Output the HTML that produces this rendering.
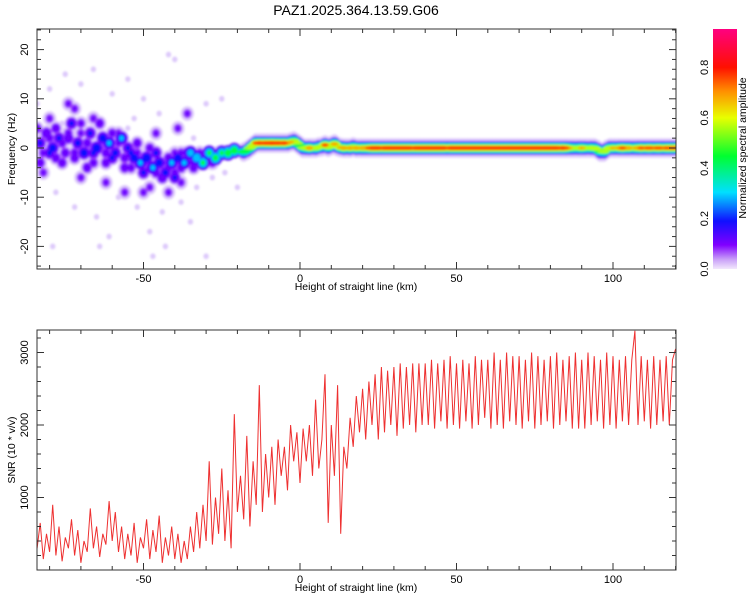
<!DOCTYPE html>
<html><head><meta charset="utf-8"><style>
html,body{margin:0;padding:0;background:#fff;}
svg{display:block;font-family:"Liberation Sans",sans-serif;}
</style></head><body>
<svg id="chart" width="750" height="600" viewBox="0 0 750 600">
<defs>
<clipPath id="clipTop"><rect x="37" y="29" width="639" height="240"/></clipPath>
<clipPath id="clipBot"><rect x="37" y="330" width="639" height="240"/></clipPath>
<filter id="soft" x="-5%" y="-5%" width="110%" height="110%"><feGaussianBlur stdDeviation="1.1"/></filter>
<linearGradient id="cbar" x1="0" y1="1" x2="0" y2="0">
<stop offset="0" stop-color="#f2e8fc"/><stop offset="0.04" stop-color="#c9a0f8"/>
<stop offset="0.1" stop-color="#8000ff"/><stop offset="0.2" stop-color="#1010ff"/>
<stop offset="0.32" stop-color="#00e0ff"/><stop offset="0.47" stop-color="#00ff30"/>
<stop offset="0.63" stop-color="#e8ff00"/><stop offset="0.74" stop-color="#ff9000"/>
<stop offset="0.84" stop-color="#ff1000"/><stop offset="1" stop-color="#ff0080"/>
</linearGradient>
</defs>
<text x="356" y="15" font-size="14" text-anchor="middle">PAZ1.2025.364.13.59.G06</text>
<g id="topPlot"></g>
<g id="botPlot"></g>
<g id="cb"></g>
</svg>
<script>
// ---------- data ----------
const snrStart = -84;
const snrValues = [
300,650,150,500,250,900,200,600,120,450,300,700,200,550,100,400,250,850,300,600,
180,500,350,950,400,800,250,600,150,500,200,650,100,450,300,700,150,550,250,750,
100,450,200,600,150,500,100,400,
150,600,250,800,300,900,400,1500,350,1000,500,1400,400,1100,300,2150,
800,1300,700,1850,600,1500,900,2550,800,1600,
1000,1700,900,1800,1300,1700,1100,2000,1500,1900,
1200,1950,1500,2000,1300,2350,1400,1800,2700,650,2000,1300,2550,500,1700,
1400,2100,1700,2400,1900,2500,1800,2600,2000,2700,
1800,2800,1900,2750,2000,2800,1850,2850,1950,2800,2000,2850,1900,2850,2000,
2850,2000,2900,1950,2850,2050,2900,1950,2950,2000,
2850,1950,2900,2050,2850,1950,2950,2000,2900,2100,
2900,1950,3000,2000,2900,1950,3000,2050,2950,2000,
2950,1950,2900,2050,3000,1950,2950,2000,2900,2050,
2950,1950,3000,2000,2900,2050,2950,1950,3000,1950,
2900,1950,3000,2000,2950,2050,2900,1950,3000,2000,
2950,1950,2900,2050,2950,2000,2900,3300,2000,2950,
2050,2900,1950,2950,2000,2900,2050,2950,2000,2900,
3050];
const ridgeStart = -18;
const ridgeF = [
-0.8,-0.5,0,0.5,1,1,1,1,1,1,1,1,1,1,1,1.2,1.4,1,0.5,0,
0,0,0,0,0.2,0.3,0.6,0.2,0.5,0.8,0.3,0.1,0,0,0,0.2,0,0,0,0,
0,0,0,0,0,0,0,0,0,0,0,0,0,0,0,0,0,0,0,0,
0,0,0,0,0,0,0,0,0,0,0,0,0,0,0,0,0,0,0,0,
0,0,0,0,0,0,0,0,0,0,0,0,0,0,0,0,0,0,0,0,
0,0,0,0,0,0,0,0,0,0,0,0,0,-0.3,-0.8,-0.8,-0.3,0,0,0,
0,0,0,0,0,0,0,0,0,0,0,0,0,0,0,0,0,0,0];
const ridgeAmp = [
0.55,0.5,0.6,0.65,0.85,0.9,0.88,0.9,0.9,0.92,0.9,0.9,0.88,0.9,0.8,0.75,0.7,0.6,0.55,0.6,
0.7,0.8,0.6,0.7,0.65,0.6,0.85,0.7,0.7,0.8,0.6,0.75,0.8,0.65,0.8,0.7,0.8,0.75,0.8,0.8,
0.85,0.9,0.9,0.9,0.88,0.9,0.9,0.9,0.9,0.9,0.9,0.9,0.9,0.9,0.88,0.9,0.9,0.9,0.9,0.9,
0.9,0.9,0.9,0.9,0.9,0.85,0.9,0.9,0.9,0.9,0.9,0.9,0.9,0.9,0.9,0.9,0.9,0.9,0.9,0.9,
0.9,0.9,0.9,0.9,0.9,0.9,0.9,0.9,0.9,0.9,0.9,0.9,0.9,0.9,0.9,0.9,0.9,0.9,0.9,0.9,
0.9,0.88,0.9,0.85,0.75,0.7,0.65,0.7,0.75,0.7,0.6,0.7,0.65,0.6,0.55,0.6,0.6,0.7,0.75,0.7,
0.8,0.85,0.8,0.8,0.7,0.75,0.8,0.85,0.8,0.85,0.85,0.8,0.85,0.85,0.8,0.85,0.85,0.85,0.85];
const blobX = [-83,-81,-79,-77,-75,-73,-71,-69,-67,-65,-63,-61,-59,-57,-55,-53,-51,-49,-47,-45,-43,-41,-39,-37,-35,-33,-31,-29,-27,-25,-23,-21,
-83,-80,-78,-76,-74,-72,-70,-68,-66,-64,-62,-60,-58,-56,-54,-52,-50,-48,-46,-44,-42,-40,-38,-36,-34,
-84,-82,-80,-78,-76,-74,-72,-70,-68,-66,-64,-62,-60,-58,-56,-54,-52,-50,-48,-46,-44,-42,-40,-38,-36,-34,-32,-30,-28,-26,
-72,-74,-66,-80,-82,-68,-62,-48,-42,-38,-50,-40,-46,-36,-39,-70,-56,
-80,-75,-70,-66,-60,-55,-50,-42,-40,-45,-30,-25,-78,-72,-65,-58,-52,-48,-44,-38,-35,-47,-43,-79,-61,-28,-24,-20,-30,-55,-34,-64,-84,-76,-53,-33];
const blobF = [1,3,0,2,-1,5,1,-1,3,0,2,1,-1,2,0,-2,-3,-2,-4,-3,-5,-3,-2,-3,-1,-2,-3,-1,-2,-1,-1,-0.5,
-3,-1,4,-3,2,-2,3,-4,-1,5,-3,-2,3,-4,-1,1,-5,-4,-1,-6,-2,-6,-4,-1,-4,
4,-1,2,-2,1,3,-1,5,1,-3,0,-1,3,1,-2,-4,-1,-3,0,-5,-3,-4,-5,-1,-3,-3,-1,-2,-3,-1,
8,9,6,6,-5,-4,-7,-8,-9,-7,-9,-1,3,7,4,-6,-9,
12,15,13,16,11,14,10,19,18,7,9,10,-9,-12,-14,-10,-12,-17,-13,-11,-15,-22,-20,-20,-18,-6,-5,-8,-22,4,2,-20,9,5,6,-8];
const blobA = [0.2,0.18,0.25,0.2,0.15,0.2,0.22,0.25,0.2,0.28,0.25,0.3,0.22,0.3,0.2,0.25,0.3,0.28,0.3,0.25,0.22,0.3,0.25,0.3,0.35,0.4,0.45,0.45,0.5,0.45,0.55,0.55,
0.15,0.2,0.15,0.15,0.18,0.15,0.12,0.15,0.2,0.15,0.15,0.2,0.12,0.15,0.2,0.15,0.2,0.15,0.2,0.18,0.15,0.2,0.15,0.18,0.15,
0.14,0.13,0.14,0.15,0.14,0.13,0.14,0.13,0.15,0.14,0.13,0.15,0.14,0.13,0.15,0.14,0.13,0.15,0.14,0.15,0.14,0.15,0.14,0.13,0.15,0.14,0.13,0.15,0.14,0.13,
0.12,0.12,0.12,0.12,0.12,0.12,0.12,0.12,0.12,0.12,0.12,0.12,0.12,0.12,0.12,0.12,0.12,
0.04,0.04,0.04,0.04,0.04,0.04,0.04,0.04,0.04,0.04,0.04,0.04,0.04,0.04,0.04,0.04,0.04,0.04,0.04,0.04,0.04,0.04,0.04,0.04,0.04,0.04,0.04,0.04,0.04,0.04,0.04,0.04,0.04,0.04,0.04,0.04];
const xTicks = [-50,0,50,100];
const fTicks = [-20,-10,0,10,20];
const snrTicks = [1000,2000,3000];
const cbTicks = [0.0,0.2,0.4,0.6,0.8];

// ---------- helpers ----------
const NS = "http://www.w3.org/2000/svg";
const X0 = 37, X1 = 676, TT = 29, TB = 269, BT = 330, BB = 570;
const sx = v => 300 + v * 3.13;
const syF = f => 148 - f * 4.92;
const syS = s => 570 - s * 0.0725;
const syC = c => 269 - c * 252;
function mk(tag, attrs, parent){const e=document.createElementNS(NS,tag);for(const k in attrs)e.setAttribute(k,attrs[k]);parent.appendChild(e);return e;}
const cstops=[[0,[242,232,252]],[0.04,[214,190,250]],[0.1,[128,0,255]],[0.2,[16,16,255]],[0.32,[0,224,255]],[0.47,[0,255,48]],[0.63,[232,255,0]],[0.74,[255,144,0]],[0.84,[255,16,0]],[1,[255,0,128]]];
function cmap(v){for(let i=1;i<cstops.length;i++){if(v<=cstops[i][0]){const a=cstops[i-1],b=cstops[i];const t=(v-a[0])/(b[0]-a[0]);const c=a[1].map((q,j)=>Math.round(q+(b[1][j]-q)*t));return `rgb(${c[0]},${c[1]},${c[2]})`;}}return "rgb(255,0,128)";}
const levels=[0.03,0.08,0.12,0.2,0.3,0.45,0.6,0.72,0.82];

// ---------- top spectrogram ----------
const topG = document.getElementById('topPlot');
const clipG = mk('g',{'clip-path':'url(#clipTop)'},topG);
const marks = mk('g',{filter:'url(#soft)'},clipG);


for(const lv of levels){
  const g = mk('g',{fill:cmap(lv)},marks);
  
  
  for(let i=0;i<blobX.length;i++){
    const a=blobA[i]; if(a<lv) continue;
    const fr=(a-lv)/a*0.7+0.3;
    const big=a<0.06?0.7:1;
    const e=mk('ellipse',{cx:sx(blobX[i]),cy:syF(blobF[i]),rx:(2.6*fr*big*3.13).toFixed(1),ry:(1.8*fr*big*4.92).toFixed(1)},g);
    
    
  }
  for(let i=0;i<ridgeF.length;i++){
    const a=ridgeAmp[i]; if(a<lv) continue;
    const h=lv<0.05?2.0:(1.35*(a-lv)/a+0.22);
    const e=mk('ellipse',{cx:sx(ridgeStart+i),cy:syF(ridgeF[i]),rx:(lv>0.7?1.2:2.0)*3.13,ry:(h*4.92).toFixed(1)},g);
    
    
  }
}
function drawFrame(parent,t,b,yTickVals,ySc,minorStep,yMin,yMax){
  const r=mk('rect',{x:X0,y:t,width:X1-X0,height:b-t,fill:'none',stroke:'#333','stroke-width':1},parent);
  
  
  for(let v=-80;v<=120;v+=10){
    const L=(v%50===0)?7:4;const x=sx(v);
    mk('line',{x1:x,y1:b,x2:x,y2:b-L,stroke:'#333'},parent);
    mk('line',{x1:x,y1:t,x2:x,y2:t+L,stroke:'#333'},parent);
  }
  for(let v=yMin;v<=yMax;v+=minorStep){
    const y=ySc(v); if(y<t||y>b) continue;
    const L=yTickVals.includes(v)?7:4;
    mk('line',{x1:X0,y1:y,x2:X0+L,y2:y,stroke:'#333'},parent);
    mk('line',{x1:X1,y1:y,x2:X1-L,y2:y,stroke:'#333'},parent);
  }
  for(const v of xTicks){
    const tx=mk('text',{x:sx(v),y:b+13,'font-size':11,'text-anchor':'middle'},parent);
    tx.textContent=v;
    
    
  }
  for(const v of yTickVals){
    const y=ySc(v);
    const tx=mk('text',{x:0,y:0,'font-size':11,'text-anchor':'middle',transform:`translate(28,${y}) rotate(-90)`},parent);
    tx.textContent=v;
    
    
  }
  const xt=mk('text',{x:356,y:b+21,'font-size':10.5,'text-anchor':'middle'},parent);
  xt.textContent='Height of straight line (km)';
  
  
}
drawFrame(topG,TT,TB,fTicks,syF,2,-24,24);
const yt1=mk('text',{x:0,y:0,'font-size':10.5,'text-anchor':'middle',transform:'translate(15,149) rotate(-90)'},topG);
yt1.textContent='Frequency (Hz)';



// ---------- bottom SNR ----------
const botG=document.getElementById('botPlot');
const lg=mk('g',{'clip-path':'url(#clipBot)'},botG);
let d='';
for(let i=0;i<snrValues.length;i++){d+=(i?'L':'M')+sx(snrStart+i).toFixed(1)+','+syS(snrValues[i]).toFixed(1);}
const snrLine=mk('path',{d:d,fill:'none',stroke:'#ee3030','stroke-width':1},lg);


drawFrame(botG,BT,BB,snrTicks,syS,200,0,3400);
const yt2=mk('text',{x:0,y:0,'font-size':10.5,'text-anchor':'middle',transform:'translate(15,450) rotate(-90)'},botG);
yt2.textContent='SNR (10 * v/v)';



// ---------- colorbar ----------
const cbG=document.getElementById('cb');
const cr=mk('rect',{x:713,y:29,width:24,height:240,fill:'url(#cbar)'},cbG);


for(const v of cbTicks){
  const y=syC(v);
  const tx=mk('text',{x:0,y:0,'font-size':11,'text-anchor':'middle',transform:`translate(708,${y}) rotate(-90)`},cbG);
  tx.textContent=v.toFixed(1);
  
  
}
const ct=mk('text',{x:0,y:0,'font-size':10.5,'text-anchor':'middle',transform:'translate(746,148) rotate(-90)'},cbG);
ct.textContent='Normalized spectral amplitude';


</script>
</body></html>
